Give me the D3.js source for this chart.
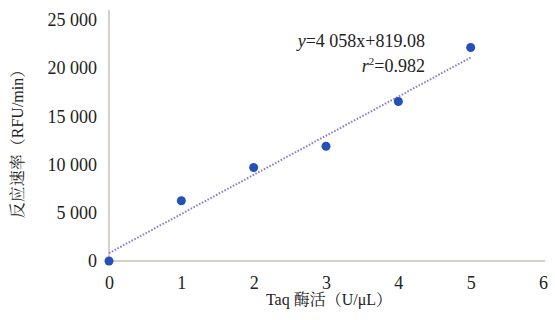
<!DOCTYPE html>
<html><head><meta charset="utf-8">
<script src="https://cdn.jsdelivr.net/npm/d3@7"></script>
<style>body{margin:0;background:#fff}</style>
</head><body>
<svg id="c" width="555" height="320"></svg>
<script>
const enzymeActivity = [0, 1, 2, 3, 4, 5];
const reactionRate = [0, 6250, 9700, 11900, 16550, 22150];
const xTicks = [0, 1, 2, 3, 4, 5, 6];
const yTicks = [0, 5000, 10000, 15000, 20000, 25000];
const yTickLabels = ["0", "5 000", "10 000", "15 000", "20 000", "25 000"];
const fitSlope = 4058, fitIntercept = 819.08;
const fitRange = [0, 5];

const svg = d3.select("#c");
const serif = "Times New Roman, Liberation Serif, DejaVu Serif, Noto Serif, serif";
const cjk = "Times New Roman, Liberation Serif, Noto Serif CJK SC, Noto Sans CJK SC, serif";
const x = d3.scaleLinear().domain([0, 6]).range([109, 543]);
const y = d3.scaleLinear().domain([0, 25000]).range([261, 20]);
const axisColor = "#cdbfb8";

svg.append("line").attr("x1", x(0)).attr("x2", x(0)).attr("y1", 10).attr("y2", y(0))
  .attr("stroke", axisColor).attr("stroke-width", 1.5);
svg.append("line").attr("x1", x(0)).attr("x2", 545).attr("y1", y(0)).attr("y2", y(0))
  .attr("stroke", axisColor).attr("stroke-width", 1.5);

const yAxis = d3.axisLeft(y).tickValues(yTicks).tickSize(0).tickPadding(12)
  .tickFormat((d, i) => yTickLabels[i]);
const gy = svg.append("g").attr("transform", `translate(${x(0)},0)`).call(yAxis);
gy.select(".domain").remove();
gy.selectAll("text").attr("font-family", serif).attr("font-size", 18).attr("fill", "#222");

const xAxis = d3.axisBottom(x).tickValues(xTicks).tickSize(0).tickPadding(15).tickFormat(d3.format("d"));
const gx = svg.append("g").attr("transform", `translate(0,${y(0)})`).call(xAxis);
gx.select(".domain").remove();
gx.selectAll("text").attr("font-family", serif).attr("font-size", 18).attr("fill", "#222");

svg.append("line")
  .attr("x1", x(fitRange[0])).attr("y1", y(fitSlope * fitRange[0] + fitIntercept))
  .attr("x2", x(fitRange[1])).attr("y2", y(fitSlope * fitRange[1] + fitIntercept))
  .attr("stroke", "#8a80c8").attr("stroke-width", 2).attr("stroke-dasharray", "1.6,1.6");

svg.selectAll("circle.pt").data(enzymeActivity).enter().append("circle")
  .attr("class", "pt")
  .attr("cx", (d) => x(d)).attr("cy", (d, i) => y(reactionRate[i]))
  .attr("r", 4.5).attr("fill", "#2550b8");

const eq = svg.append("text").attr("x", 425).attr("y", 47).attr("text-anchor", "end")
  .attr("font-family", serif).attr("font-size", 18).attr("fill", "#222");
eq.append("tspan").attr("font-style", "italic").text("y");
eq.append("tspan").text("=4 058x+819.08");
const r2 = svg.append("text").attr("x", 425).attr("y", 72).attr("text-anchor", "end")
  .attr("font-family", serif).attr("font-size", 18).attr("fill", "#222");
r2.append("tspan").attr("font-style", "italic").text("r");
r2.append("tspan").attr("font-size", 11).attr("dy", -7).text("2");
r2.append("tspan").attr("dy", 7).text("=0.982");

svg.append("text").attr("x", 329).attr("y", 305).attr("text-anchor", "middle")
  .attr("font-family", cjk).attr("font-size", 16).attr("fill", "#222")
  .text("Taq 酶活（U/μL）");
svg.append("text").attr("transform", "translate(23,140) rotate(-90)").attr("text-anchor", "middle")
  .attr("font-family", cjk).attr("font-size", 16).attr("fill", "#222")
  .text("反应速率（RFU/min）");
</script>
</body></html>
